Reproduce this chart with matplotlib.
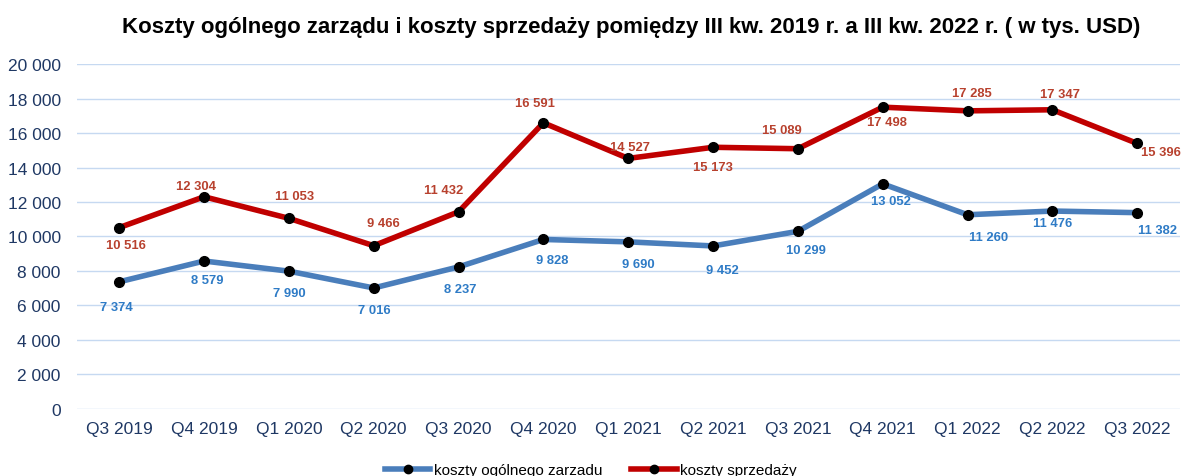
import matplotlib
matplotlib.use("Agg")
import matplotlib.pyplot as plt
from matplotlib.ticker import FuncFormatter

categories = ["Q3 2019", "Q4 2019", "Q1 2020", "Q2 2020", "Q3 2020", "Q4 2020", "Q1 2021",
              "Q2 2021", "Q3 2021", "Q4 2021", "Q1 2022", "Q2 2022", "Q3 2022"]
zarzad = [7374, 8579, 7990, 7016, 8237, 9828, 9690, 9452, 10299, 13052, 11260, 11476, 11382]
sprzedaz = [10516, 12304, 11053, 9466, 11432, 16591, 14527, 15173, 15089, 17498, 17285, 17347, 15396]
yticks = list(range(0, 20001, 2000))

# label offsets in pixels (dx, dy)
red_off = [(7, -17), (-8, 11), (6, 22), (10, 23), (-15, 22), (-8, 20), (2, 11), (0, -20),
           (-16, 19), (4, -15), (4, 18), (8, 16), (24, -9)]
blue_off = [(-3, -25), (3, -19), (0, -22), (1, -22), (2, -22), (9, -21), (10, -22), (9, -24),
            (8, -19), (8, -17), (21, -22), (0, -12), (20, -17)]

plt.rcParams['font.family'] = ['Liberation Sans', 'DejaVu Sans']

fig = plt.figure(figsize=(11.82, 4.77), dpi=100)
ax = fig.add_axes([0.065, 0.1405, 0.933, 0.7232])

x = list(range(len(categories)))
blue_line = '#4A7EBB'
red_line = '#C00000'
blue_lbl = '#2E7BC6'
red_lbl = '#B8412E'

lb, = ax.plot(x, zarzad, color=blue_line, lw=4.0, marker='o', markersize=7,
              markerfacecolor='black', markeredgecolor='black', label='koszty ogólnego zarzadu', zorder=3)
lr, = ax.plot(x, sprzedaz, color=red_line, lw=4.0, marker='o', markersize=7,
              markerfacecolor='black', markeredgecolor='black', label='koszty sprzedaży', zorder=3)

def fmt(v):
    return f"{v:,}".replace(",", " ")

for i, v in enumerate(sprzedaz):
    dx, dy = red_off[i]
    ax.annotate(fmt(v), (i, v), xytext=(dx, dy), textcoords='offset pixels', ha='center', va='center',
                color=red_lbl, fontsize=9.4, fontweight='bold', zorder=4)
for i, v in enumerate(zarzad):
    dx, dy = blue_off[i]
    ax.annotate(fmt(v), (i, v), xytext=(dx, dy), textcoords='offset pixels', ha='center', va='center',
                color=blue_lbl, fontsize=9.4, fontweight='bold', zorder=4)

ax.set_xlim(-0.5, len(categories) - 0.5)
ax.set_ylim(0, 20000)
ax.set_yticks(yticks)
ax.yaxis.set_major_formatter(FuncFormatter(lambda v, p: fmt(int(v))))
ax.set_xticks(x)
ax.set_xticklabels(categories)
ax.tick_params(axis='both', length=0, colors='#1F3864', labelsize=12.5)
ax.tick_params(axis='y', pad=11.5)
ax.tick_params(axis='x', pad=9)
ax.grid(axis='y', color='#C6D9F1', lw=1)
ax.set_axisbelow(True)
for s in ax.spines.values():
    s.set_visible(False)

fig.text(0.534, 0.943, "Koszty ogólnego zarządu i koszty sprzedaży pomiędzy III kw. 2019 r. a III kw. 2022 r. ( w tys. USD)",
         ha='center', va='center', fontsize=16, fontweight='bold', color='black')

leg = fig.legend(handles=[lb, lr], loc='center', bbox_to_anchor=(0.5, 0.012), ncol=2, frameon=False,
                 fontsize=11, handlelength=2.95, columnspacing=1.9, handletextpad=0.25)
for h in leg.legend_handles:
    h.set_markersize(6)

fig.savefig("out.png", dpi=100)
